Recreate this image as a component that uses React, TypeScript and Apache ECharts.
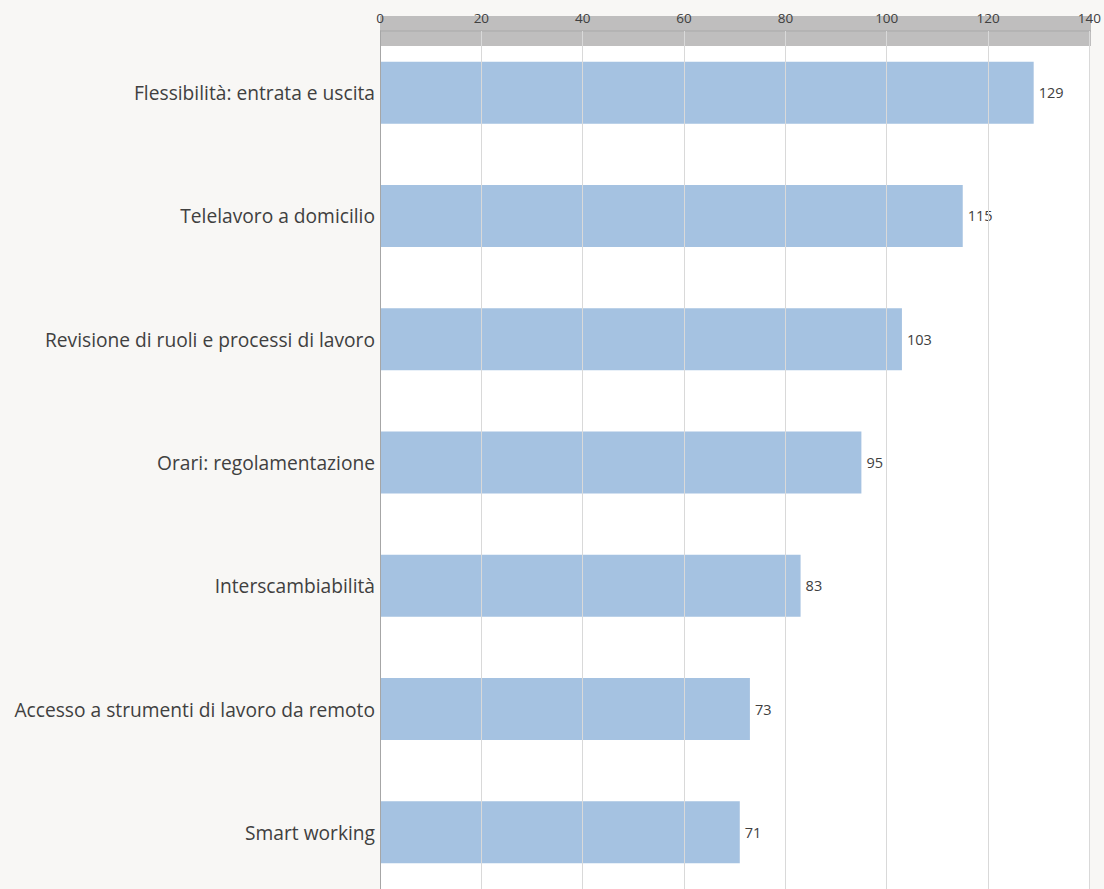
import React, { useEffect, useRef } from "react";
import * as echarts from "echarts";

const categories = [
  "Flessibilità: entrata e uscita",
  "Telelavoro a domicilio",
  "Revisione di ruoli e processi di lavoro",
  "Orari: regolamentazione",
  "Interscambiabilità",
  "Accesso a strumenti di lavoro da remoto",
  "Smart working",
];
const values = [129, 115, 103, 95, 83, 73, 71];
const xTicks = [0, 20, 40, 60, 80, 100, 120, 140];

export default function App() {
  const ref = useRef<HTMLDivElement>(null);
  useEffect(() => {
    if (!ref.current) return;
    const chart = echarts.init(ref.current, undefined, { renderer: "svg" });
    chart.setOption({
      animation: false,
      backgroundColor: "#f8f7f5",
      textStyle: { fontFamily: "Open Sans" },
      graphic: [
        {
          type: "rect",
          z: 1,
          shape: { x: 380, y: 16, width: 711, height: 30 },
          style: { fill: "#bfbebe" },
        },
        {
          type: "line",
          z: 1,
          shape: { x1: 380, y1: 31, x2: 1091, y2: 31 },
          style: { stroke: "#a9a9a9", lineWidth: 1 },
        },
      ],
      grid: {
        left: 380,
        right: 13,
        top: 31,
        bottom: -5,
        show: true,
        backgroundColor: "#ffffff",
        borderWidth: 0,
      },
      xAxis: {
        type: "value",
        position: "top",
        min: xTicks[0],
        max: xTicks[xTicks.length - 1],
        interval: 20,
        z: 5,
        axisLine: { show: false },
        axisTick: { show: false },
        axisLabel: {
          color: "#404040",
          fontSize: 13.5,
          margin: 6,
          fontFamily: "Open Sans",
        },
        splitLine: { show: true, lineStyle: { color: "#d9d9d9", width: 1 } },
      },
      yAxis: {
        type: "category",
        data: categories,
        inverse: true,
        z: 6,
        axisLine: { show: true, lineStyle: { color: "#a6a6a6", width: 1 } },
        axisTick: { show: false },
        axisLabel: {
          color: "#404040",
          fontSize: 19.2,
          margin: 5,
          fontFamily: "Open Sans",
        },
      },
      series: [
        {
          type: "bar",
          data: values,
          barWidth: 62,
          itemStyle: { color: "#a5c2e1" },
          label: {
            show: true,
            position: "right",
            distance: 5,
            color: "#404040",
            fontSize: 14.5,
            fontFamily: "Open Sans",
          },
        },
      ],
    });
    return () => chart.dispose();
  }, []);
  return (
    <div
      ref={ref}
      style={{ position: "fixed", left: 0, top: 0, width: 1104, height: 894 }}
    />
  );
}
